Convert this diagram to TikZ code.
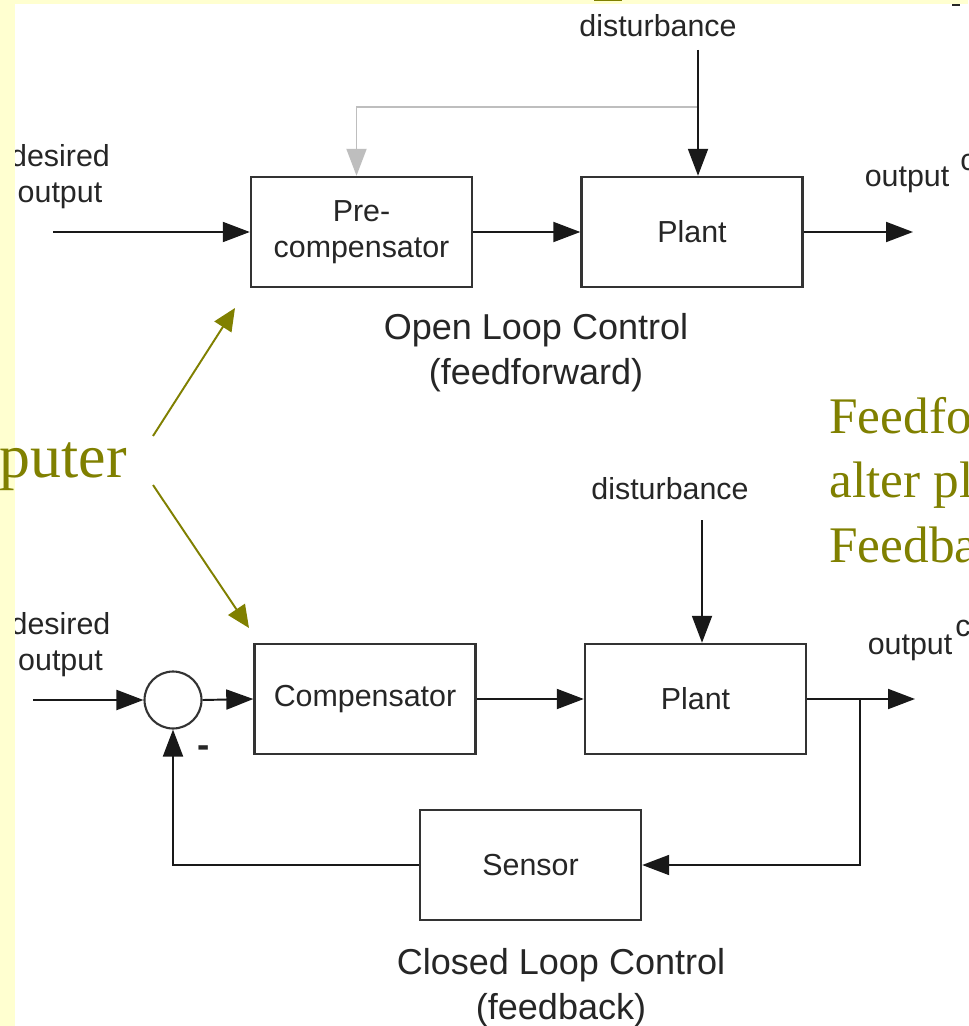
\documentclass[tikz,border=0pt]{standalone}
\usepackage{fontspec}
\setmainfont{Liberation Serif}
\newfontfamily\diagfont{Liberation Sans}
\usetikzlibrary{arrows.meta,positioning,calc}
\definecolor{SlideYellow}{RGB}{255,255,208}
\definecolor{SlideOlive}{RGB}{128,128,0}
\definecolor{FfGray}{RGB}{190,190,190}
\tikzset{
  ctl/block/.style={
    draw=black!80,
    line width=1.4pt,
    fill=white,
    align=center,
    text=black!85,
    minimum width=4.42cm,
    minimum height=2.2cm,
    inner sep=0pt,
    font=\diagfont\fontsize{17.3}{20.4}\selectfont
  },
  ctl/sum/.style={circle, draw=black!80, line width=1.2pt, minimum size=1.14cm, inner sep=0pt},
  ctl/label/.style={font=\diagfont\fontsize{17.3}{20.4}\selectfont, text=black!85, align=center, inner sep=0pt},
  ctl/caption/.style={font=\diagfont\fontsize{20.5}{25.6}\selectfont, text=black!85, align=center, inner sep=0pt},
  ctl/arrow/.style={-{Triangle[length=0.54cm,width=0.4cm]}, line width=1.1pt, draw=black!90},
  ctl/grayarrow/.style={-{Triangle[length=0.54cm,width=0.4cm]}, line width=1.1pt, draw=FfGray},
  ctl/pointer/.style={-{Triangle[length=0.45cm,width=0.4cm]}, line width=1.1pt, draw=SlideOlive},
  ctl/note/.style={text=SlideOlive, inner sep=0pt, align=left}
}

\begin{document}
\begin{tikzpicture}[x=0.02cm,y=-0.02cm]
  \useasboundingbox (0,0) rectangle (968,1026);
  \clip (0,0) rectangle (968,1026);
  \fill[white] (0,0) rectangle (968,1026);

  % open loop (feedforward)
  \node[ctl/block] (pre) at (361.5,232) {Pre-\\compensator};
  \node[ctl/block] (plantA) at (692,232) {Plant};
  \coordinate (inA) at (53,232);
  \coordinate (outA) at (913,232);
  \coordinate (distA) at (698,50);
  \coordinate (tapA) at (698,107);
  \node[ctl/label] (desA) at (60,177) {desired\\output};
  \node[ctl/label] (distLblA) at (658,26) {disturbance};
  \node[ctl/label] (outLblA) at (907,180) {output};
  \node[ctl/label,anchor=base west] (cutA) at (960,171) {c};
  \draw[ctl/grayarrow] (tapA) -| ($(pre.north)+(-5,0)$);
  \draw[ctl/arrow] (distA) -- (distA |- plantA.north);
  \draw[ctl/arrow] (inA) -- (pre.west);
  \draw[ctl/arrow] (pre) -- (plantA);
  \draw[ctl/arrow] (plantA.east) -- (outA);
  \node[ctl/caption] (capA) at (536,353) {Open Loop Control\\(feedforward)};

  % closed loop (feedback)
  \node[ctl/sum] (sum) at (173,700) {};
  \node[ctl/block] (comp) at (365,699) {Compensator};
  \node[ctl/block] (plantB) at (695.5,699) {Plant};
  \node[ctl/block] (sensor) at (530.5,865) {Sensor};
  \coordinate (inB) at (33,700);
  \coordinate (outB) at (915,699);
  \coordinate (branch) at (860,699);
  \coordinate (distB) at (702,520);
  \node[ctl/label] (desB) at (60.5,645) {desired\\output};
  \node[ctl/label] (distLblB) at (670,489) {disturbance};
  \node[ctl/label] (outLblB) at (910,648) {output};
  \node[ctl/label,anchor=base west] (cutB) at (955,636) {c};
  \node[ctl/label,font=\diagfont\bfseries\fontsize{21}{24}\selectfont] (minus) at (204,752) {-};
  \draw[ctl/arrow] (inB) -- (sum.west);
  \draw[ctl/arrow] (sum.east) -- (comp.west);
  \draw[ctl/arrow] (comp) -- (plantB);
  \draw[ctl/arrow] (distB) -- (distB |- plantB.north);
  \draw[ctl/arrow] (plantB.east) -- (outB);
  \draw[ctl/arrow] (branch) |- (sensor.east);
  \draw[ctl/arrow] (sensor.west) -| (sum.south);
  \node[ctl/caption] (capB) at (561,988) {Closed Loop Control\\(feedback)};

  % slide around the figure
  \fill[SlideYellow] (0,0) rectangle (15,1026);
  \fill[SlideYellow] (0,0) rectangle (968,4);
  \fill[SlideOlive] (594,0) rectangle (622,1.5);
  \fill[black!85] (952,4) rectangle (960,6);
  \node[ctl/note,anchor=base east,font=\fontsize{35.2}{42}\selectfont] (cpu) at (127,477) {Computer};
  \node[ctl/note,anchor=base west,font=\fontsize{29.2}{36.6}\selectfont] (ffNote) at (829,562) {Feedforward\\alter plant\\Feedback};
  \coordinate (ptrA) at (153,436);
  \coordinate (ptrB) at (153,485);
  \coordinate (tipA) at (235,308);
  \coordinate (tipB) at (249,628);
  \draw[ctl/pointer] (ptrA) -- (tipA);
  \draw[ctl/pointer] (ptrB) -- (tipB);
\end{tikzpicture}
\end{document}
